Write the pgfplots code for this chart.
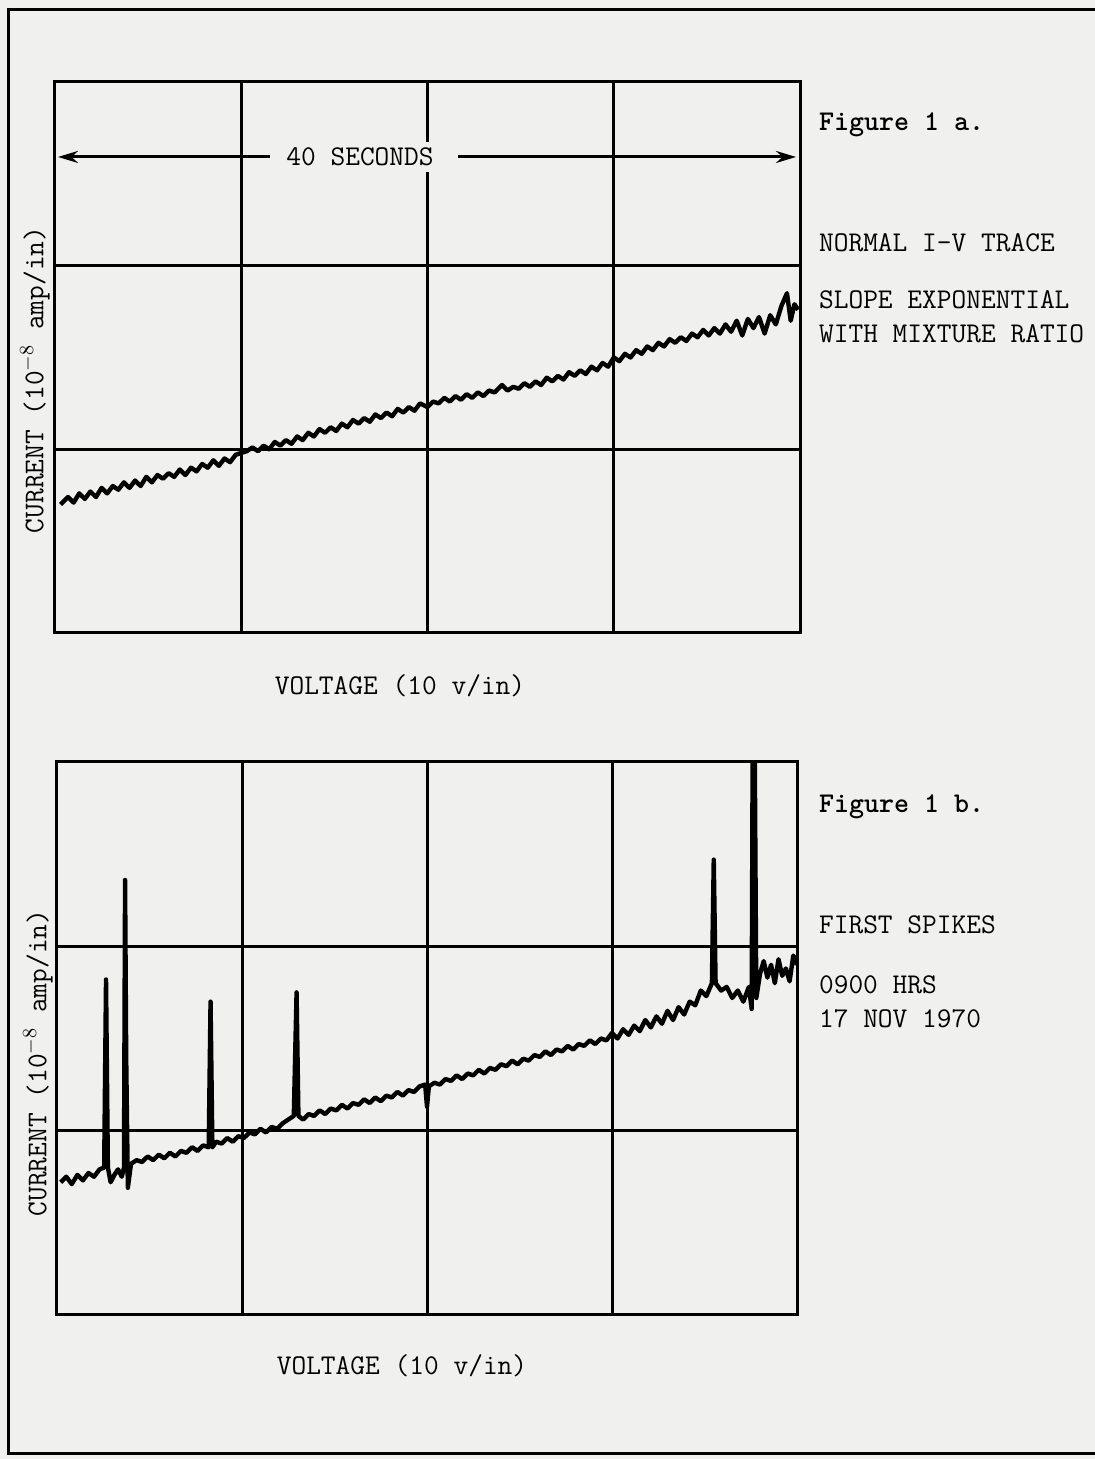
\documentclass[border=0pt]{standalone}
\usepackage{pgfplots}
\pgfplotsset{compat=1.18}
\usetikzlibrary{arrows.meta}
\definecolor{paper}{RGB}{240,240,238}
\pgfplotstableread{
x y
0.03 0.70
0.07 0.74
0.10 0.71
0.13 0.76
0.16 0.73
0.19 0.77
0.22 0.74
0.25 0.79
0.28 0.76
0.31 0.80
0.34 0.78
0.37 0.82
0.40 0.79
0.43 0.83
0.46 0.80
0.49 0.85
0.52 0.82
0.55 0.86
0.58 0.84
0.61 0.87
0.64 0.85
0.67 0.89
0.70 0.86
0.73 0.90
0.76 0.88
0.79 0.92
0.82 0.90
0.85 0.94
0.88 0.91
0.91 0.95
0.94 0.93
0.97 0.97
1.00 0.98
1.03 0.99
1.06 1.01
1.09 0.99
1.12 1.02
1.15 1.00
1.18 1.04
1.21 1.02
1.24 1.05
1.27 1.03
1.30 1.07
1.33 1.05
1.36 1.09
1.39 1.07
1.42 1.11
1.45 1.09
1.48 1.12
1.51 1.10
1.54 1.14
1.57 1.12
1.60 1.16
1.63 1.14
1.66 1.17
1.69 1.15
1.72 1.19
1.75 1.17
1.78 1.20
1.81 1.18
1.84 1.22
1.87 1.20
1.90 1.23
1.93 1.21
1.96 1.25
2.00 1.23
2.03 1.26
2.06 1.25
2.09 1.28
2.12 1.26
2.15 1.29
2.18 1.27
2.21 1.30
2.24 1.28
2.27 1.31
2.30 1.29
2.33 1.32
2.36 1.31
2.40 1.35
2.43 1.32
2.46 1.34
2.49 1.33
2.52 1.36
2.55 1.34
2.58 1.37
2.61 1.35
2.64 1.39
2.67 1.37
2.70 1.40
2.73 1.38
2.76 1.42
2.79 1.40
2.82 1.43
2.85 1.41
2.88 1.45
2.91 1.43
2.94 1.47
2.97 1.45
3.00 1.50
3.03 1.48
3.06 1.52
3.09 1.50
3.12 1.54
3.15 1.52
3.18 1.56
3.21 1.54
3.24 1.58
3.27 1.56
3.30 1.60
3.33 1.58
3.36 1.61
3.39 1.59
3.42 1.63
3.45 1.61
3.48 1.65
3.51 1.62
3.54 1.66
3.57 1.63
3.60 1.68
3.63 1.64
3.66 1.70
3.69 1.62
3.72 1.71
3.75 1.66
3.78 1.72
3.81 1.63
3.84 1.73
3.87 1.68
3.90 1.78
3.93 1.85
3.95 1.70
3.97 1.79
3.99 1.76
}\traceA
\pgfplotstableread{
x y
0.02 0.72
0.05 0.75
0.08 0.71
0.11 0.76
0.14 0.73
0.17 0.77
0.20 0.75
0.23 0.79
0.255 0.80
0.265 1.82
0.275 0.80
0.29 0.72
0.31 0.76
0.33 0.79
0.35 0.75
0.362 0.80
0.368 2.36
0.374 1.40
0.383 0.69
0.40 0.82
0.43 0.84
0.46 0.83
0.49 0.86
0.52 0.84
0.55 0.87
0.58 0.85
0.61 0.88
0.64 0.86
0.67 0.89
0.70 0.88
0.73 0.91
0.76 0.89
0.79 0.92
0.82 0.91
0.830 1.70
0.840 0.91
0.86 0.94
0.89 0.93
0.92 0.96
0.95 0.94
0.98 0.97
1.01 0.96
1.04 0.99
1.07 0.98
1.10 1.01
1.13 0.99
1.16 1.02
1.19 1.01
1.22 1.04
1.25 1.06
1.28 1.08
1.295 1.75
1.305 1.08
1.33 1.06
1.36 1.09
1.39 1.08
1.42 1.11
1.45 1.09
1.48 1.12
1.51 1.11
1.54 1.14
1.57 1.12
1.60 1.15
1.63 1.14
1.66 1.17
1.69 1.15
1.72 1.18
1.75 1.16
1.78 1.19
1.81 1.18
1.84 1.21
1.87 1.19
1.90 1.22
1.93 1.21
1.96 1.24
1.99 1.25
2.00 1.13
2.01 1.24
2.04 1.26
2.07 1.25
2.10 1.28
2.13 1.27
2.16 1.30
2.19 1.28
2.22 1.31
2.25 1.30
2.28 1.33
2.31 1.31
2.34 1.34
2.37 1.33
2.40 1.36
2.43 1.35
2.46 1.38
2.49 1.36
2.52 1.39
2.55 1.38
2.58 1.41
2.61 1.40
2.64 1.43
2.67 1.41
2.70 1.44
2.73 1.43
2.76 1.46
2.79 1.44
2.82 1.47
2.85 1.46
2.88 1.49
2.91 1.47
2.94 1.50
2.97 1.49
3.00 1.53
3.03 1.50
3.06 1.55
3.09 1.52
3.12 1.57
3.15 1.54
3.18 1.60
3.21 1.56
3.24 1.62
3.27 1.58
3.30 1.65
3.33 1.60
3.36 1.67
3.39 1.63
3.42 1.70
3.45 1.68
3.48 1.76
3.51 1.73
3.54 1.80
3.550 2.47
3.560 1.80
3.59 1.76
3.62 1.78
3.65 1.72
3.68 1.76
3.71 1.70
3.74 1.78
3.755 1.66
3.760 3.00
3.766 1.90
3.772 3.00
3.780 1.72
3.80 1.85
3.82 1.92
3.84 1.83
3.86 1.90
3.88 1.80
3.90 1.93
3.92 1.84
3.94 1.88
3.96 1.81
3.98 1.95
4.00 1.90
}\traceB
\pgfplotsset{scopegrid/.style={
  scale only axis, xmin=0, xmax=4, ymin=0, ymax=3,
  xtick={1,2,3}, ytick={1,2}, xticklabels={}, yticklabels={},
  major tick length=0pt, grid=major,
  major grid style={line width=1.5pt, black},
  axis line style={line width=1.5pt, black},
  anchor=south west}}
\begin{document}
\begin{tikzpicture}
\useasboundingbox (0,0) rectangle (547.5pt,729.5pt);
\fill[paper] (0,0) rectangle (547.5pt,729.5pt);
% page border
\draw[line width=1.5pt] (547.5pt,724.5pt) -- (4pt,724.5pt) -- (4pt,2.5pt) -- (547.5pt,2.5pt);
\begin{axis}[scopegrid, at={(27.5pt,413pt)}, width=372.5pt, height=275.5pt]
\addplot[black, line width=2.2pt, line join=round] table[x=x,y=y] {\traceA};
\end{axis}
\begin{axis}[scopegrid, at={(28.5pt,72pt)}, width=370pt, height=276.5pt]
\addplot[black, line width=2.2pt, line join=round] table[x=x,y=y] {\traceB};
\end{axis}
\begin{scope}[font=\ttfamily\fontsize{14.3}{17}\selectfont]
% figure a
\node[fill=paper, inner sep=3pt] at (180pt,651pt) {40 SECONDS};
\draw[line width=1.5pt, -{Stealth[length=10pt,width=6pt]}] (135pt,651pt) -- (29pt,651pt);
\draw[line width=1.5pt, -{Stealth[length=10pt,width=6pt]}] (229pt,651pt) -- (398pt,651pt);
\node[anchor=west, font=\ttfamily\bfseries\fontsize{14.3}{17}\selectfont] at (406pt,667pt) {Figure 1 a.};
\node[anchor=west] at (406pt,608pt) {NORMAL I-V TRACE};
\node[anchor=west, align=left] at (406pt,571pt) {SLOPE EXPONENTIAL\\WITH MIXTURE RATIO};
\node[rotate=90] at (17.5pt,539.5pt) {CURRENT (10$^{-8}$ amp/in)};
\node at (200pt,386.5pt) {VOLTAGE (10 v/in)};
% figure b
\node[anchor=west, font=\ttfamily\bfseries\fontsize{14.3}{17}\selectfont] at (406pt,326pt) {Figure 1 b.};
\node[anchor=west] at (406pt,267pt) {FIRST SPIKES};
\node[anchor=west, align=left] at (406pt,228.5pt) {0900 HRS\\17 NOV 1970};
\node[rotate=90] at (19pt,198pt) {CURRENT (10$^{-8}$ amp/in)};
\node at (201pt,46.5pt) {VOLTAGE (10 v/in)};
\end{scope}
\end{tikzpicture}
\end{document}
